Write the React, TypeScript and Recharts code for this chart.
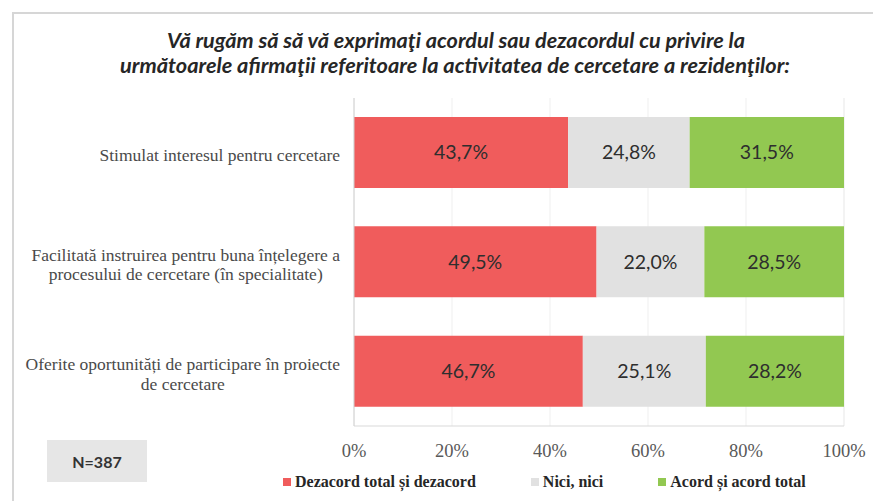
import React from 'react';
import { BarChart, Bar, XAxis, YAxis, CartesianGrid, LabelList, Legend } from 'recharts';

const categories = [
  'Stimulat interesul pentru cercetare',
  'Facilitată instruirea pentru buna înțelegere a\nprocesului de cercetare (în specialitate)',
  'Oferite oportunități de participare în proiecte\nde cercetare',
];
const dezacord = [43.7, 49.5, 46.7];
const nici = [24.8, 22.0, 25.1];
const acord = [31.5, 28.5, 28.2];
const seriesNames = ['Dezacord total și dezacord', 'Nici, nici', 'Acord și acord total'];
const seriesColors = ['#F05C5C', '#E1E1E1', '#92C851'];
const xTicks = [0, 20, 40, 60, 80, 100];
const titleLines = [
  'Vă rugăm să să vă exprimaţi acordul sau dezacordul cu privire la',
  'următoarele afirmaţii referitoare la activitatea de cercetare a rezidenţilor:',
];
const sampleLabel = 'N=387';

const data = categories.map((name, i) => ({
  name,
  dez: dezacord[i],
  nici: nici[i],
  acord: acord[i],
}));

const W = 873;
const H = 501;

let ctx: CanvasRenderingContext2D | null = null;
function measure(text: string, font: string): number {
  if (!ctx && typeof document !== 'undefined') {
    ctx = document.createElement('canvas').getContext('2d');
  }
  if (!ctx) return text.length * 8;
  ctx.font = font;
  return ctx.measureText(text).width;
}

const Y_FONT_SIZE = 17.5;
const Y_FONT = 'Liberation Serif';

function YTick(props: any) {
  const { x, y, payload } = props;
  const lines = String(payload.value).split('\n');
  const font = `${Y_FONT_SIZE}px "${Y_FONT}"`;
  const maxW = Math.max(...lines.map((l) => measure(l, font)));
  const cx = x - maxW / 2;
  const lh = 19.5;
  const y0 = y + 2.5 - ((lines.length - 1) * lh) / 2;
  return (
    <text textAnchor="middle" fontFamily={Y_FONT} fontSize={Y_FONT_SIZE} fill="#4A4A4A">
      {lines.map((l, i) => (
        <tspan key={i} x={cx} y={y0 + i * lh} dy="0.35em">
          {l}
        </tspan>
      ))}
    </text>
  );
}

function XTick(props: any) {
  const { x, y, payload } = props;
  return (
    <text x={x} y={y + 25} dy="0.35em" textAnchor="middle" fontFamily="Liberation Serif" fontSize={18.5} fill="#595959">
      {`${payload.value}%`}
    </text>
  );
}

function LegendContent(props: any) {
  const payload = [...(props.payload || [])].sort(
    (a: any, b: any) => seriesNames.indexOf(a.value) - seriesNames.indexOf(b.value)
  );
  return (
    <div style={{ display: 'flex', alignItems: 'center', gap: 55, whiteSpace: 'nowrap' }}>
      {payload.map((p: any, i: number) => (
        <div key={i} style={{ display: 'flex', alignItems: 'center' }}>
          <span style={{ display: 'inline-block', width: 8, height: 8, background: p.color, marginRight: 4 }} />
          <span style={{ fontFamily: 'Liberation Serif', fontWeight: 700, fontSize: 16, color: '#262626', lineHeight: '20px' }}>
            {p.value}
          </span>
        </div>
      ))}
    </div>
  );
}

const fmt = (v: any) => `${Number(v).toFixed(1).replace('.', ',')}%`;
const labelStyle = { fill: '#2E2E2E', fontSize: 19.5, fontFamily: 'Lato' };

export default function App() {
  return (
    <div style={{ position: 'absolute', left: 0, top: 0, width: W, height: H, overflow: 'hidden', background: '#fff' }}>
      <div
        style={{
          position: 'absolute',
          left: 12,
          top: 12,
          width: W + 20,
          height: H + 20,
          borderLeft: '2px solid #D6D6D6',
          borderTop: '2px solid #D6D6D6',
        }}
      />
      <div style={{ position: 'absolute', left: 0, top: 0 }}>
        <BarChart
          width={W}
          height={H}
          data={data}
          layout="vertical"
          margin={{ top: 98, right: 29, bottom: 45, left: 0 }}
        >
          <CartesianGrid horizontal={false} vertical={true} stroke="#EFEFEF" />
          <XAxis
            type="number"
            domain={[0, 100]}
            ticks={xTicks}
            interval={0}
            height={30}
            tickLine={false}
            tickSize={0}
            tickMargin={0}
            axisLine={{ stroke: '#D9D9D9' }}
            tick={<XTick />}
          />
          <YAxis
            type="category"
            dataKey="name"
            width={354}
            tickLine={false}
            tickSize={0}
            tickMargin={14}
            axisLine={{ stroke: '#D0D0D0' }}
            tick={<YTick />}
            interval={0}
          />
          <Legend
            layout="horizontal"
            verticalAlign="middle"
            align="center"
            wrapperStyle={{ top: 472, left: 283, width: 600, height: 20 }}
            content={<LegendContent />}
          />
          <Bar dataKey="dez" name={seriesNames[0]} stackId="a" fill={seriesColors[0]} barSize={71} isAnimationActive={false}>
            <LabelList dataKey="dez" position="center" formatter={fmt} {...labelStyle} />
          </Bar>
          <Bar dataKey="nici" name={seriesNames[1]} stackId="a" fill={seriesColors[1]} barSize={71} isAnimationActive={false}>
            <LabelList dataKey="nici" position="center" formatter={fmt} {...labelStyle} />
          </Bar>
          <Bar dataKey="acord" name={seriesNames[2]} stackId="a" fill={seriesColors[2]} barSize={71} isAnimationActive={false}>
            <LabelList dataKey="acord" position="center" formatter={fmt} {...labelStyle} />
          </Bar>
        </BarChart>
      </div>
      <svg width={W} height={110} style={{ position: 'absolute', left: 0, top: 0, pointerEvents: 'none' }}>
        <text
          x={456}
          y={48}
          textAnchor="middle"
          fontFamily="Lato"
          fontWeight={700}
          fontStyle="italic"
          fontSize={20}
          fill="#262626"
          textLength={578}
          lengthAdjust="spacingAndGlyphs"
        >
          {titleLines[0]}
        </text>
        <text
          x={455}
          y={73}
          textAnchor="middle"
          fontFamily="Lato"
          fontWeight={700}
          fontStyle="italic"
          fontSize={20}
          fill="#262626"
          textLength={670}
          lengthAdjust="spacingAndGlyphs"
        >
          {titleLines[1]}
        </text>
      </svg>
      <div
        style={{
          position: 'absolute',
          left: 47,
          top: 440,
          width: 100,
          height: 42,
          background: '#E6E6E6',
          display: 'flex',
          alignItems: 'center',
          justifyContent: 'center',
          fontFamily: 'Lato',
          fontWeight: 700,
          fontSize: 16,
          color: '#333333',
        }}
      >
        {sampleLabel}
      </div>
    </div>
  );
}
